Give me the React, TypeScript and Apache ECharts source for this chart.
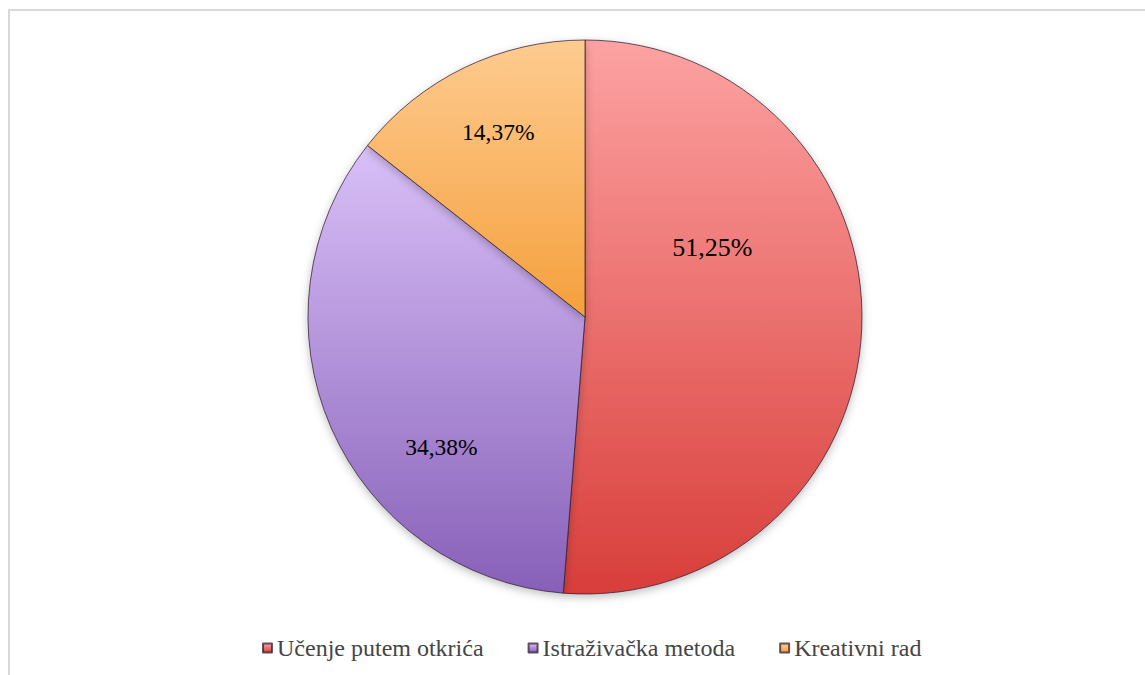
import React, { useEffect, useRef } from "react";
import * as echarts from "echarts";

const categories = ["Učenje putem otkrića", "Istraživačka metoda", "Kreativni rad"];
const values = [51.25, 34.38, 14.37];
const labelTexts = ["51,25%", "34,38%", "14,37%"];

const topColors = ["#fda2a2", "#d9c0f8", "#fecb90"];
const bottomColors = ["#d83e3a", "#8760b8", "#f5a03c"];
const labelSizes = [26, 23.5, 23.5];
const labelOffsets = [[-14, -75], [-14, 73], [-25, -58]];

const SERIF = "Liberation Serif";

function grad(i: number) {
  return new echarts.graphic.LinearGradient(0, 0, 0, 1, [
    { offset: 0, color: topColors[i] },
    { offset: 1, color: bottomColors[i] },
  ]);
}

export default function App() {
  const ref = useRef<HTMLDivElement>(null);
  useEffect(() => {
    document.body.style.margin = "0";
    const chart = echarts.init(ref.current!, null, { renderer: "svg" });
    chart.setOption({
      animation: false,
      backgroundColor: "#ffffff",
      graphic: [
        {
          type: "rect",
          shape: { x: 9, y: 10, width: 1145, height: 700 },
          style: { fill: "none", stroke: "#d9d9d9", lineWidth: 2 },
          silent: true,
        },
      ],
      legend: {
        data: categories,
        bottom: 10,
        left: 257,
        icon: "rect",
        itemWidth: 9,
        itemHeight: 9,
        itemGap: 44,
        textStyle: {
          fontFamily: SERIF,
          fontSize: 24,
          color: "#454545",
          padding: [0, 0, 0, 0],
        },
      },
      series: [
        {
          type: "pie",
          center: [585, 317],
          radius: [0, 277],
          startAngle: 90,
          clockwise: true,
          avoidLabelOverlap: false,
          itemStyle: {
            borderColor: "rgba(50,30,50,0.75)",
            borderWidth: 1,
            shadowBlur: 8,
            shadowOffsetY: 3,
            shadowColor: "rgba(0,0,0,0.25)",
          },
          emphasis: { disabled: true },
          labelLine: { show: false },
          data: categories.map((name, i) => ({
            name,
            value: values[i],
            itemStyle: { color: grad(i) },
            label: {
              show: true,
              position: "inside",
              formatter: labelTexts[i],
              fontFamily: SERIF,
              fontSize: labelSizes[i],
              color: "#000000",
              offset: labelOffsets[i],
            },
          })),
        },
      ],
    });
    return () => chart.dispose();
  }, []);
  return <div ref={ref} style={{ width: 1145, height: 675 }} />;
}
